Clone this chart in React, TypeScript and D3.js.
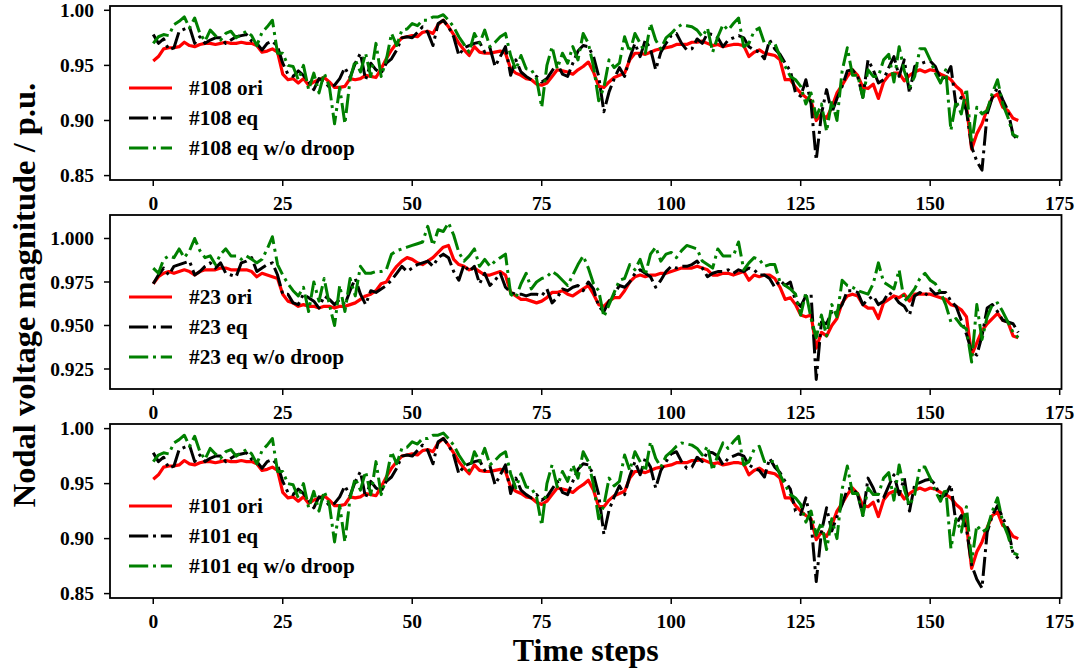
import React from "react";
import * as d3 from "d3";

const steps = d3.range(168);
const xTicks = [0, 25, 50, 75, 100, 125, 150, 175];

const ori108 = [0.954,0.958,0.965,0.966,0.966,0.967,0.971,0.968,0.967,0.969,0.970,0.970,0.969,0.970,0.971,0.970,0.970,0.971,0.970,0.970,0.968,0.962,0.963,0.965,0.962,0.942,0.937,0.938,0.934,0.938,0.932,0.935,0.937,0.939,0.935,0.930,0.930,0.931,0.938,0.937,0.938,0.941,0.940,0.939,0.947,0.956,0.964,0.970,0.975,0.976,0.977,0.976,0.980,0.981,0.979,0.987,0.991,0.985,0.978,0.970,0.964,0.959,0.967,0.962,0.961,0.961,0.962,0.963,0.961,0.947,0.943,0.941,0.938,0.937,0.933,0.932,0.934,0.940,0.946,0.945,0.944,0.942,0.946,0.949,0.953,0.944,0.931,0.930,0.935,0.939,0.941,0.943,0.955,0.961,0.961,0.960,0.962,0.964,0.965,0.966,0.967,0.969,0.969,0.969,0.971,0.971,0.972,0.970,0.968,0.969,0.967,0.968,0.969,0.969,0.968,0.958,0.962,0.964,0.961,0.960,0.959,0.955,0.937,0.937,0.930,0.925,0.921,0.918,0.900,0.906,0.902,0.912,0.925,0.932,0.940,0.946,0.941,0.930,0.929,0.933,0.920,0.935,0.941,0.943,0.943,0.936,0.941,0.944,0.946,0.944,0.946,0.945,0.942,0.940,0.937,0.931,0.927,0.913,0.874,0.888,0.897,0.910,0.921,0.924,0.912,0.909,0.902,0.900];
const eq108 = [0.978,0.970,0.974,0.964,0.966,0.981,0.983,0.985,0.970,0.976,0.970,0.973,0.975,0.975,0.970,0.973,0.976,0.977,0.978,0.972,0.970,0.964,0.970,0.972,0.967,0.952,0.942,0.940,0.945,0.941,0.935,0.928,0.938,0.936,0.930,0.932,0.938,0.948,0.939,0.952,0.961,0.937,0.952,0.946,0.943,0.952,0.956,0.964,0.975,0.976,0.975,0.980,0.985,0.980,0.968,0.988,0.991,0.985,0.976,0.959,0.966,0.968,0.970,0.971,0.962,0.966,0.949,0.958,0.967,0.941,0.955,0.944,0.940,0.937,0.940,0.935,0.938,0.945,0.952,0.942,0.940,0.952,0.963,0.968,0.967,0.958,0.940,0.908,0.926,0.938,0.948,0.940,0.957,0.970,0.958,0.973,0.965,0.946,0.962,0.970,0.977,0.979,0.970,0.964,0.965,0.974,0.970,0.979,0.978,0.975,0.967,0.973,0.975,0.977,0.975,0.967,0.964,0.962,0.956,0.973,0.965,0.960,0.952,0.945,0.925,0.922,0.937,0.915,0.864,0.906,0.928,0.907,0.920,0.931,0.945,0.946,0.940,0.921,0.955,0.946,0.934,0.937,0.948,0.958,0.940,0.955,0.925,0.949,0.951,0.953,0.954,0.949,0.937,0.940,0.949,0.913,0.921,0.909,0.876,0.863,0.855,0.906,0.921,0.930,0.919,0.909,0.887,0.882];
const nodroop108 = [0.970,0.976,0.978,0.977,0.987,0.990,0.994,0.984,0.993,0.979,0.972,0.982,0.977,0.973,0.979,0.981,0.975,0.978,0.981,0.977,0.968,0.980,0.985,0.991,0.961,0.961,0.950,0.949,0.937,0.950,0.928,0.943,0.925,0.943,0.931,0.897,0.930,0.897,0.937,0.955,0.944,0.961,0.940,0.970,0.940,0.955,0.979,0.968,0.982,0.983,0.988,0.986,0.991,0.991,0.994,0.994,0.996,0.991,0.985,0.976,0.969,0.962,0.979,0.970,0.982,0.967,0.971,0.976,0.979,0.959,0.946,0.959,0.947,0.946,0.938,0.912,0.950,0.967,0.947,0.961,0.952,0.967,0.955,0.979,0.970,0.949,0.918,0.930,0.955,0.948,0.952,0.976,0.962,0.979,0.970,0.961,0.988,0.973,0.965,0.975,0.979,0.984,0.987,0.986,0.985,0.982,0.976,0.984,0.962,0.976,0.987,0.982,0.988,0.993,0.967,0.970,0.981,0.984,0.970,0.970,0.970,0.958,0.949,0.940,0.937,0.931,0.915,0.925,0.903,0.915,0.890,0.918,0.900,0.945,0.966,0.941,0.941,0.921,0.946,0.940,0.940,0.955,0.960,0.935,0.967,0.945,0.930,0.940,0.965,0.965,0.955,0.943,0.934,0.946,0.891,0.918,0.906,0.929,0.879,0.912,0.906,0.909,0.925,0.937,0.915,0.903,0.887,0.885];

const ori23 = [0.974,0.978,0.980,0.981,0.980,0.981,0.982,0.981,0.979,0.981,0.982,0.982,0.982,0.983,0.983,0.982,0.982,0.982,0.982,0.981,0.978,0.980,0.979,0.978,0.977,0.968,0.964,0.963,0.961,0.962,0.961,0.961,0.960,0.961,0.961,0.960,0.961,0.961,0.962,0.963,0.965,0.967,0.968,0.970,0.974,0.975,0.980,0.984,0.987,0.989,0.988,0.986,0.985,0.987,0.989,0.992,0.995,0.996,0.988,0.985,0.984,0.982,0.983,0.981,0.979,0.979,0.980,0.981,0.979,0.969,0.967,0.965,0.965,0.964,0.963,0.964,0.966,0.969,0.969,0.970,0.968,0.967,0.969,0.971,0.973,0.968,0.962,0.961,0.964,0.966,0.966,0.970,0.975,0.978,0.979,0.978,0.979,0.979,0.980,0.980,0.981,0.982,0.983,0.983,0.983,0.984,0.983,0.982,0.979,0.979,0.980,0.980,0.979,0.980,0.981,0.976,0.979,0.978,0.979,0.979,0.977,0.972,0.965,0.966,0.962,0.956,0.955,0.956,0.937,0.946,0.944,0.950,0.954,0.963,0.967,0.968,0.967,0.962,0.960,0.960,0.954,0.963,0.965,0.967,0.966,0.968,0.964,0.968,0.968,0.968,0.968,0.967,0.966,0.965,0.962,0.961,0.959,0.955,0.933,0.940,0.947,0.951,0.954,0.957,0.953,0.952,0.944,0.943];
const eq23 = [0.974,0.979,0.983,0.979,0.984,0.985,0.986,0.987,0.979,0.981,0.984,0.986,0.983,0.986,0.980,0.979,0.978,0.986,0.987,0.989,0.981,0.983,0.985,0.986,0.979,0.968,0.968,0.963,0.962,0.968,0.966,0.964,0.960,0.967,0.965,0.962,0.965,0.962,0.970,0.977,0.968,0.962,0.970,0.969,0.971,0.973,0.976,0.980,0.984,0.981,0.983,0.985,0.986,0.987,0.984,0.989,0.991,0.989,0.981,0.976,0.985,0.981,0.984,0.974,0.980,0.973,0.976,0.980,0.972,0.969,0.968,0.968,0.967,0.968,0.968,0.967,0.971,0.963,0.966,0.971,0.970,0.972,0.973,0.970,0.975,0.971,0.961,0.958,0.964,0.968,0.973,0.972,0.975,0.980,0.982,0.980,0.978,0.972,0.976,0.981,0.984,0.983,0.984,0.984,0.985,0.987,0.983,0.978,0.980,0.981,0.981,0.982,0.980,0.982,0.981,0.983,0.982,0.979,0.979,0.977,0.972,0.976,0.973,0.975,0.964,0.961,0.967,0.968,0.919,0.952,0.951,0.958,0.958,0.962,0.970,0.970,0.969,0.962,0.965,0.967,0.962,0.964,0.969,0.967,0.963,0.961,0.956,0.967,0.969,0.967,0.971,0.968,0.969,0.969,0.964,0.961,0.953,0.945,0.935,0.933,0.944,0.960,0.962,0.958,0.953,0.952,0.951,0.946];
const nodroop23 = [0.983,0.980,0.988,0.990,0.989,0.994,0.989,0.993,1.000,0.993,0.989,0.990,0.985,0.991,0.994,0.990,0.990,0.988,0.990,0.988,0.986,0.988,0.994,1.001,0.985,0.979,0.974,0.970,0.967,0.972,0.958,0.975,0.964,0.977,0.962,0.950,0.973,0.958,0.977,0.967,0.984,0.980,0.980,0.981,0.981,0.982,0.991,0.993,0.994,0.995,0.996,0.997,0.998,1.007,0.996,1.005,1.004,1.009,1.002,0.992,0.987,0.990,0.994,0.984,0.988,0.984,0.987,0.989,0.991,0.968,0.966,0.974,0.980,0.971,0.975,0.977,0.978,0.981,0.979,0.976,0.973,0.979,0.985,0.990,0.983,0.974,0.970,0.955,0.962,0.969,0.976,0.977,0.985,0.982,0.988,0.979,0.991,0.995,0.987,0.991,0.992,0.989,0.993,0.996,0.995,0.994,0.987,0.985,0.983,0.994,0.990,0.990,0.990,0.998,0.982,0.986,0.989,0.988,0.984,0.985,0.985,0.975,0.973,0.971,0.968,0.956,0.969,0.954,0.943,0.956,0.944,0.962,0.955,0.976,0.973,0.972,0.970,0.969,0.968,0.974,0.986,0.975,0.973,0.971,0.982,0.964,0.967,0.971,0.977,0.980,0.976,0.974,0.969,0.962,0.952,0.954,0.950,0.948,0.929,0.962,0.942,0.955,0.962,0.963,0.958,0.952,0.946,0.943];

const ori101 = [0.954,0.958,0.965,0.966,0.966,0.967,0.971,0.968,0.967,0.969,0.970,0.970,0.969,0.970,0.971,0.970,0.970,0.971,0.970,0.970,0.968,0.962,0.963,0.965,0.962,0.942,0.937,0.938,0.934,0.938,0.932,0.935,0.937,0.939,0.935,0.930,0.930,0.931,0.938,0.937,0.938,0.941,0.940,0.939,0.947,0.956,0.964,0.970,0.975,0.976,0.977,0.976,0.980,0.981,0.979,0.987,0.991,0.985,0.978,0.970,0.964,0.959,0.967,0.962,0.961,0.961,0.962,0.963,0.961,0.947,0.943,0.941,0.938,0.937,0.933,0.931,0.934,0.940,0.946,0.945,0.944,0.942,0.946,0.949,0.953,0.944,0.929,0.929,0.935,0.939,0.941,0.943,0.955,0.961,0.961,0.960,0.962,0.964,0.965,0.966,0.967,0.969,0.969,0.969,0.971,0.971,0.972,0.970,0.968,0.969,0.967,0.968,0.969,0.969,0.968,0.958,0.962,0.964,0.961,0.960,0.959,0.955,0.937,0.937,0.930,0.925,0.921,0.918,0.899,0.906,0.902,0.912,0.925,0.932,0.940,0.946,0.941,0.930,0.929,0.933,0.920,0.935,0.941,0.943,0.943,0.936,0.941,0.944,0.946,0.944,0.946,0.945,0.942,0.940,0.937,0.931,0.927,0.913,0.873,0.888,0.897,0.910,0.921,0.924,0.912,0.909,0.902,0.900];
const eq101 = [0.978,0.970,0.974,0.964,0.966,0.981,0.983,0.985,0.970,0.976,0.970,0.973,0.975,0.975,0.970,0.973,0.976,0.977,0.978,0.972,0.970,0.964,0.970,0.972,0.967,0.952,0.942,0.940,0.945,0.941,0.935,0.928,0.938,0.936,0.930,0.932,0.938,0.948,0.939,0.952,0.961,0.937,0.952,0.946,0.943,0.952,0.956,0.964,0.975,0.976,0.975,0.980,0.985,0.980,0.968,0.988,0.991,0.985,0.976,0.959,0.966,0.968,0.970,0.971,0.962,0.966,0.949,0.958,0.967,0.941,0.955,0.944,0.940,0.937,0.940,0.935,0.938,0.945,0.952,0.942,0.940,0.952,0.963,0.968,0.967,0.958,0.940,0.904,0.926,0.938,0.948,0.940,0.957,0.970,0.958,0.973,0.965,0.946,0.962,0.970,0.977,0.979,0.970,0.964,0.965,0.974,0.970,0.979,0.978,0.975,0.967,0.973,0.975,0.977,0.975,0.967,0.964,0.962,0.956,0.973,0.965,0.960,0.952,0.945,0.925,0.922,0.937,0.915,0.861,0.906,0.928,0.907,0.920,0.931,0.945,0.946,0.940,0.921,0.955,0.946,0.934,0.937,0.948,0.958,0.940,0.955,0.925,0.949,0.951,0.953,0.954,0.949,0.937,0.940,0.949,0.913,0.921,0.909,0.876,0.863,0.855,0.906,0.921,0.930,0.919,0.909,0.887,0.882];
const nodroop101 = [0.970,0.976,0.978,0.977,0.987,0.990,0.994,0.984,0.993,0.979,0.972,0.982,0.977,0.973,0.979,0.981,0.975,0.978,0.981,0.977,0.968,0.980,0.985,0.991,0.961,0.961,0.950,0.949,0.937,0.950,0.928,0.943,0.925,0.943,0.931,0.897,0.930,0.897,0.937,0.955,0.944,0.961,0.940,0.970,0.940,0.955,0.979,0.968,0.982,0.983,0.988,0.986,0.991,0.991,0.994,0.994,0.996,0.991,0.985,0.976,0.969,0.962,0.979,0.970,0.982,0.967,0.971,0.976,0.979,0.959,0.946,0.959,0.947,0.946,0.938,0.912,0.950,0.967,0.947,0.961,0.952,0.967,0.955,0.979,0.970,0.949,0.918,0.930,0.955,0.948,0.952,0.976,0.962,0.979,0.970,0.961,0.988,0.973,0.965,0.975,0.979,0.984,0.987,0.986,0.985,0.982,0.976,0.984,0.962,0.976,0.987,0.982,0.988,0.993,0.967,0.970,0.981,0.984,0.970,0.970,0.970,0.958,0.949,0.940,0.937,0.931,0.915,0.925,0.903,0.915,0.890,0.918,0.900,0.945,0.966,0.941,0.941,0.921,0.946,0.940,0.940,0.955,0.960,0.935,0.967,0.945,0.930,0.940,0.965,0.965,0.955,0.943,0.934,0.946,0.891,0.918,0.906,0.929,0.879,0.912,0.906,0.909,0.925,0.937,0.915,0.903,0.887,0.885];

const ticks108 = [0.85, 0.9, 0.95, 1.0];
const ticks23 = [0.925, 0.95, 0.975, 1.0];

const panels = [
  { node: "#108", ori: ori108, eq: eq108, nd: nodroop108, yTicks: ticks108, fmt: ".2f", dom: [0.846, 1.0039] },
  { node: "#23", ori: ori23, eq: eq23, nd: nodroop23, yTicks: ticks23, fmt: ".3f", dom: [0.9135, 1.0135] },
  { node: "#101", ori: ori101, eq: eq101, nd: nodroop101, yTicks: ticks108, fmt: ".2f", dom: [0.846, 1.0042] },
];

const W = 1080, H = 670;
const left = 110, right = 1061.5;
const panelH = 174, panelStep = 209, firstTop = 6;
const FONT = "'Liberation Serif', 'Times New Roman', serif";
const DASH = "19.2,4.8,3,4.8";

export default function App() {
  const x = d3.scaleLinear().domain([-8.35, 175.35]).range([left, right]);
  return (
    <svg width={W} height={H} style={{ position: "absolute", left: 0, top: 0, background: "#fff" }} fontFamily={FONT} fontWeight="bold">
      <rect x={0} y={0} width={W} height={H} fill="#fff" />
      {panels.map((p, k) => {
        const top = firstTop + k * panelStep;
        const bottom = top + panelH;
        const y = d3.scaleLinear().domain(p.dom).range([bottom, top]);
        const line = (vals: number[]) =>
          d3.line<number>().x((_, i) => x(steps[i])).y((v) => y(v))(vals) || "";
        const fmt = d3.format(p.fmt);
        const series = [
          { vals: p.ori, color: "#ff0000", dash: undefined, w: 3.2, label: `${p.node} ori` },
          { vals: p.eq, color: "#000000", dash: DASH, w: 3, label: `${p.node} eq` },
          { vals: p.nd, color: "#008000", dash: DASH, w: 3, label: `${p.node} eq w/o droop` },
        ];
        return (
          <g key={p.node}>
            <defs>
              <clipPath id={`clip${k}`}>
                <rect x={left} y={top} width={right - left} height={panelH} />
              </clipPath>
            </defs>
            <g clipPath={`url(#clip${k})`}>
              {series.map((s) => (
                <path key={s.label} d={line(s.vals)} fill="none" stroke={s.color} strokeWidth={s.w}
                  strokeDasharray={s.dash} strokeLinejoin="round" />
              ))}
            </g>
            <rect x={left} y={top} width={right - left} height={panelH} fill="none" stroke="#000" strokeWidth={1.8} />
            {xTicks.map((t) => (
              <g key={t}>
                <line x1={x(t)} x2={x(t)} y1={bottom} y2={bottom + 6} stroke="#000" strokeWidth={1.5} />
                <text x={x(t)} y={bottom + 29.5} textAnchor="middle" fontSize={19.5}>{t}</text>
              </g>
            ))}
            {p.yTicks.map((t) => (
              <g key={t}>
                <line x1={left - 6} x2={left} y1={y(t)} y2={y(t)} stroke="#000" strokeWidth={1.5} />
                <text x={left - 16} y={y(t)} dy="0.35em" textAnchor="end" fontSize={19.5}>{fmt(t)}</text>
              </g>
            ))}
            {series.map((s, j) => (
              <g key={s.label}>
                <line x1={129} x2={172} y1={top + 82 + j * 30} y2={top + 82 + j * 30} stroke={s.color} strokeWidth={s.w} strokeDasharray={s.dash} />
                <text x={189} y={top + 82 + j * 30} dy="0.35em" fontSize={21.3}>{s.label}</text>
              </g>
            ))}
          </g>
        );
      })}
      <text transform={`translate(35,295) rotate(-90)`} textAnchor="middle" fontSize={32.5}>Nodal voltage magnitude / p.u.</text>
      <text x={(left + right) / 2} y={661} textAnchor="middle" fontSize={32}>Time steps</text>
    </svg>
  );
}
